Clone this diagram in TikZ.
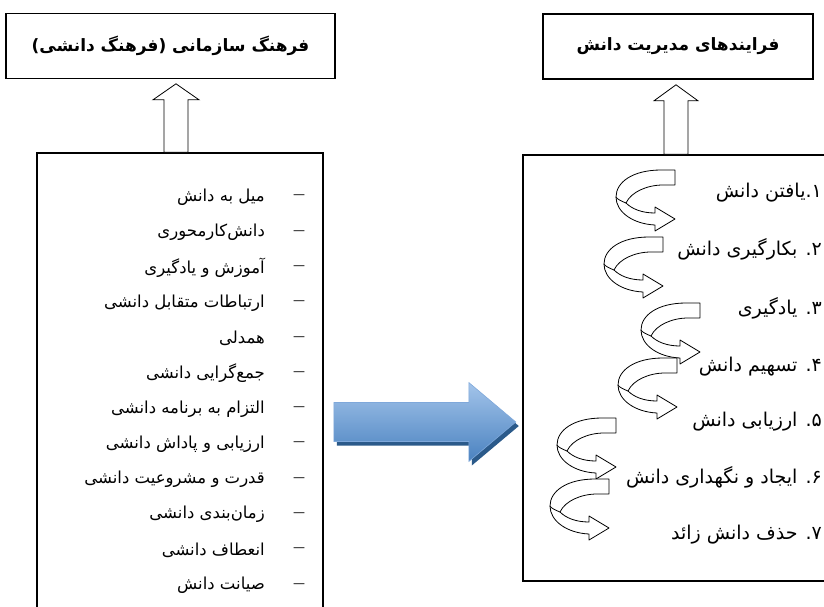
\documentclass[tikz,border=0pt]{standalone}
\usepackage{fontspec}
\usepackage{tikz}
\usetikzlibrary{calc}
\TeXXeTstate=1
\newfontfamily\farsi[Script=Arabic]{DejaVu Sans}
\definecolor{arrowblue}{HTML}{5B9BD5}
\definecolor{arrowlight}{HTML}{A3C4EA}
\definecolor{arrowdeep}{HTML}{4A82C0}
\definecolor{arrowshadow}{HTML}{2B5A8A}
\definecolor{arrowedge}{HTML}{7FA8DA}

\begin{document}
\begin{tikzpicture}[x=1pt,y=-1pt,
	titlebox/.style={draw,line width=1.6pt,minimum width=#1,minimum height=65pt,inner sep=0pt,
		font=\farsi\bfseries\fontsize{17}{20}\selectfont},
	listbox/.style={draw,line width=1.6pt},
	hollow/.style={draw,line width=0.8pt,fill=white,line join=miter},
	ribbon/.style={draw,line width=0.8pt,fill=white,line join=round},
	item/.style={inner sep=0pt,font=\farsi\fontsize{16.5}{19}\selectfont},
	step item/.style={inner sep=0pt,font=\farsi\fontsize{19}{22}\selectfont}]
		\useasboundingbox (0,0) rectangle (824,606);
		\clip (0,0) rectangle (824,606);
		% 标题框
		\node[titlebox=329pt] (ltitle) at (170.5,46) {\beginR فرهنگ سازمانی (فرهنگ دانشی)\endR};
		\node[titlebox=270pt] (rtitle) at (678,46.5) {\beginR فرایندهای مدیریت دانش\endR};
		% 列表框
		\node[listbox,minimum width=286pt,minimum height=460pt] (lbox) at (180,383) {};
		\node[listbox,minimum width=310pt,minimum height=426pt] (rbox) at (678,368) {};
		% 空心箭头
		\coordinate (lt) at ($(ltitle.south)+(5.5,4.5)$);
		\draw[hollow] (lt) -- ++(23,16) -- ++(-11,0) coordinate (lr) -- (lr |- lbox.north)
			-- ++(-24,0) coordinate (ll) -- (ll |- lr) -- ++(-11,0) -- cycle;
		\coordinate (rt) at ($(rtitle.south)+(-2,5)$);
		\draw[hollow] (rt) -- ++(22,16) -- ++(-10,0) coordinate (rr) -- (rr |- rbox.north)
			-- ++(-24,0) coordinate (rl) -- (rl |- rr) -- ++(-10,0) -- cycle;
		% 蓝色箭头
		\coordinate (bs) at ($(lbox.east)+(10,39)$);
		\begin{scope}[shift={(bs)}]
			\fill[arrowshadow] (3,-15.5) -- (138,-15.5) -- (138,-35.5) -- (185,4) -- (138,43.5)
				-- (138,23.5) -- (3,23.5) -- cycle;
			\shadedraw[draw=arrowedge,line width=0.6pt,top color=arrowlight,middle color=arrowblue,
				bottom color=arrowdeep] (0,-19.5) -- (135,-19.5) -- (135,-39.5) -- (182,0)
				-- (135,39.5) -- (135,19.5) -- (0,19.5) -- cycle;
		\end{scope}
		% 左侧条目
		\foreach \txt [count=\i] in {میل به دانش,دانش‌کارمحوری,آموزش و یادگیری,ارتباطات متقابل دانشی,
			همدلی,جمع‌گرایی دانشی,التزام به برنامه دانشی,ارزیابی و پاداش دانشی,
			قدرت و مشروعیت دانشی,زمان‌بندی دانشی,انعطاف دانشی,صیانت دانش} {
		\pgfmathsetmacro{\yy}{197+(\i-1)*35.3} % 计算行位置
		\node[item,anchor=east] (l\i) at (265,\yy) {\beginR\txt\endR};
		\node[inner sep=0pt,font=\farsi\fontsize{12}{14}\selectfont] (d\i) at (299,\yy) {—};}
		% 右侧条目
		\foreach \yy/\txt [count=\i] in {193/۱.یافتن دانش,249/۲. بکارگیری دانش,308/۳. یادگیری,
			367/۴. تسهیم دانش,422/۵. ارزیابی دانش,477/۶. ایجاد و نگهداری دانش,535/۷. حذف دانش زائد} {
		\node[step item,anchor=east] (r\i) at (822,\yy) {\beginR\txt\endR};}
		% 螺旋箭头
		\foreach \ox/\oy in {675/170,663/237,700/303,677/358,616/418,609/479} {
		\begin{scope}[shift={(\ox,\oy)}]
			\filldraw[ribbon] (0,0) -- (-14,0) .. controls (-42,0) and (-59,12) .. (-59,27)
				.. controls (-59,42) and (-42,54) .. (-20,55) -- (-20,61) -- (0,49) -- (-20,37)
				-- (-20,43) .. controls (-33,43) and (-43,39) .. (-49,33)
				.. controls (-44,22) and (-28,15) .. (-12,15) -- (0,15) -- cycle;
			\draw[ribbon] (-49,33) .. controls (-54,31) and (-58,29) .. (-59,27);
		\end{scope}}
	\end{tikzpicture}
\end{document}
